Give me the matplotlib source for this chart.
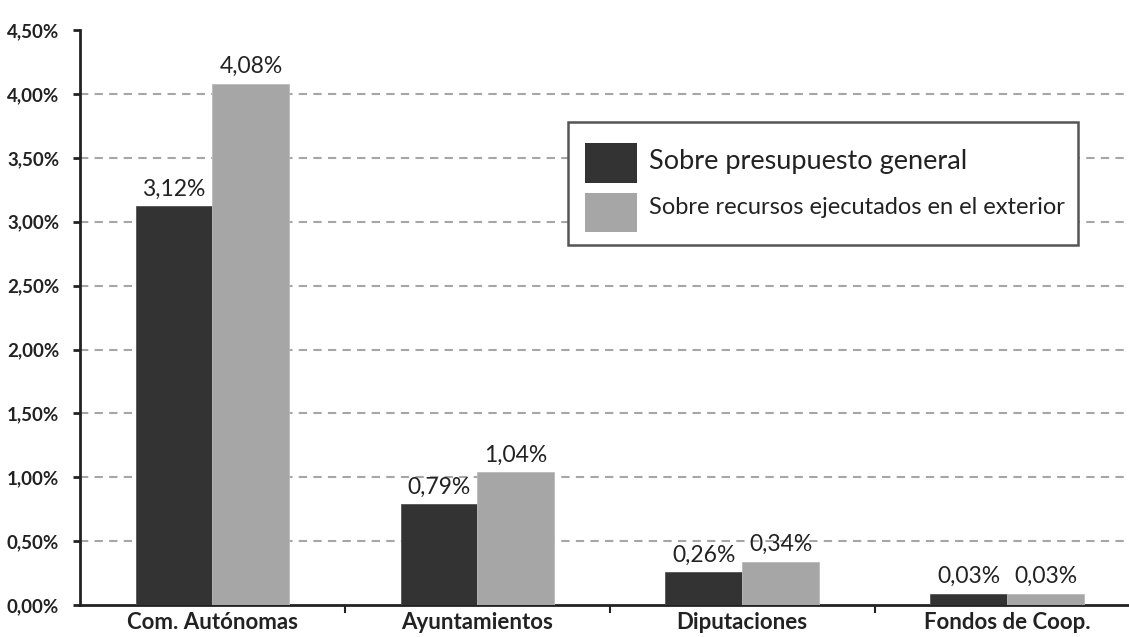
import matplotlib.pyplot as plt
from matplotlib.patches import Rectangle
import numpy as np

plt.rcParams['font.family'] = ['Lato', 'DejaVu Sans']

# data
categorias = ['Com. Autónomas', 'Ayuntamientos', 'Diputaciones', 'Fondos de Coop.']
presupuesto = [3.12, 0.79, 0.26, 0.09]
exterior = [4.08, 1.04, 0.34, 0.09]
etiq_presupuesto = ['3,12%', '0,79%', '0,26%', '0,03%']
etiq_exterior = ['4,08%', '1,04%', '0,34%', '0,03%']
yticks = [0, 0.5, 1.0, 1.5, 2.0, 2.5, 3.0, 3.5, 4.0, 4.5]
series = ['Sobre presupuesto general', 'Sobre recursos ejecutados en el exterior']

oscuro = '#333333'
claro = '#a6a6a6'

W, H = 1129, 637
fig = plt.figure(figsize=(W / 100, H / 100), dpi=100)
ax = fig.add_axes([0.0709, 0.050, 0.929, 0.903])

x = np.arange(len(categorias))
w = 0.29
b1 = ax.bar(x - w/2, presupuesto, w, color=oscuro, edgecolor='#555555', linewidth=0.6, zorder=3)
b2 = ax.bar(x + w/2, exterior, w, color=claro, edgecolor='#bbbbbb', linewidth=0.6, zorder=3)

for rect, t in zip(b1, etiq_presupuesto):
    ax.text(rect.get_x() + rect.get_width()/2, rect.get_height() + 0.05, t,
            ha='center', va='bottom', fontsize=16.5, color='#222222')
for rect, t in zip(b2, etiq_exterior):
    ax.text(rect.get_x() + rect.get_width()/2, rect.get_height() + 0.05, t,
            ha='center', va='bottom', fontsize=16.5, color='#222222')

# grid
for yv in yticks[1:-1]:
    ax.axhline(yv, color='#a6a6a6', linestyle=(0, (4, 3)), linewidth=1.5, zorder=1)

ax.set_ylim(0, 4.5)
ax.set_xlim(-0.5, 3.46)
ax.set_yticks(yticks)
ax.set_yticklabels([('%.2f%%' % v).replace('.', ',') for v in yticks],
                   fontsize=13.5, fontweight='bold', color='#222222')
ax.set_xticks(x)
ax.set_xticklabels(categorias, fontsize=16, fontweight='bold', color='#222222')
ax.set_xticks([0.5, 1.5, 2.5], minor=True)
ax.tick_params(axis='x', which='major', length=0, pad=5)
ax.tick_params(axis='x', which='minor', length=6, width=1.5, direction='out', color='#222222')
ax.tick_params(axis='y', length=5, width=2, direction='out', color='#222222', pad=10)

for s in ['top', 'right']:
    ax.spines[s].set_visible(False)
ax.spines['left'].set_linewidth(2)
ax.spines['bottom'].set_linewidth(2)
ax.spines['left'].set_color('#222222')
ax.spines['bottom'].set_color('#222222')

# legend box (pixel layout of the reference, top-left origin)
def fx(px):
    return px / W

def fy(py):
    return 1 - py / H

fig.patches.append(Rectangle((fx(568), fy(245)), fx(1078) - fx(568), fy(122) - fy(245),
                             transform=fig.transFigure, facecolor='white',
                             edgecolor='#555555', linewidth=1.8, zorder=5))
fig.patches.append(Rectangle((fx(585), fy(183)), fx(637) - fx(585), fy(143) - fy(183),
                             transform=fig.transFigure, facecolor=oscuro, zorder=6))
fig.patches.append(Rectangle((fx(585), fy(232)), fx(637) - fx(585), fy(193) - fy(232),
                             transform=fig.transFigure, facecolor=claro, zorder=6))
fig.text(fx(649), fy(162), series[0], fontsize=19.5, color='#222222', va='center', zorder=7)
fig.text(fx(649), fy(208), series[1], fontsize=17, color='#222222', va='center', zorder=7)

plt.savefig('out.png', dpi=100)
